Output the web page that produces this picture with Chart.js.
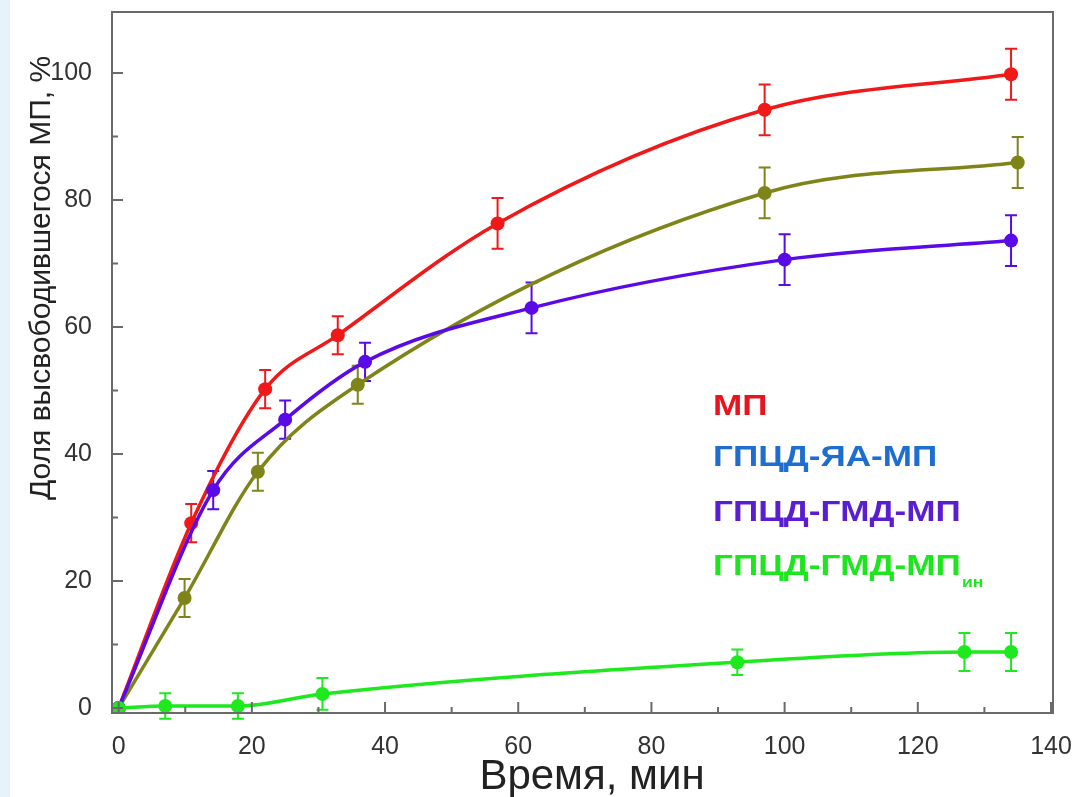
<!DOCTYPE html>
<html>
<head>
<meta charset="utf-8">
<script src="https://cdn.jsdelivr.net/npm/chart.js@4/dist/chart.umd.min.js"></script>
<style>
  html, body { margin: 0; padding: 0; background: #fff; }
  #wrap { width: 1076px; height: 797px; position: relative; }
</style>
</head>
<body>
<div id="wrap"><canvas id="chart" width="1076" height="797"></canvas></div>
<script>
// time, min
const mpX   = [0, 10.9, 22.0, 32.9, 56.9, 97.0, 134.0];
const mpY   = [0, 29.1, 50.2, 58.7, 76.3, 94.2, 99.8];
const mpErr = [0, 3, 3, 3, 4, 4, 4];

const yaX   = [0, 9.9, 20.9, 35.9, 97.0, 135.0];
const yaY   = [0, 17.3, 37.2, 50.9, 81.1, 85.9];
const yaErr = [0, 3, 3, 3, 4, 4];

const gmdX   = [0, 14.2, 25.0, 37.0, 62.0, 100.0, 134.0];
const gmdY   = [0, 34.3, 45.4, 54.5, 63.0, 70.6, 73.6];
const gmdErr = [0, 3, 3, 3, 4, 4, 4];

const inX   = [0, 7.0, 17.9, 30.6, 92.9, 127.0, 134.0];
const inY   = [0, 0.3, 0.3, 2.2, 7.2, 8.8, 8.8];
const inErr = [0, 2, 2, 2.5, 2, 3, 3];

const xTicks = [0, 20, 40, 60, 80, 100, 120, 140];
const yTicks = [0, 20, 40, 60, 80, 100];
const xMinor = [10, 30, 50, 70, 90, 110, 130];
const yMinor = [10, 30, 50, 70, 90];

const legendNames = ['МП', 'ГПЦД-ЯА-МП', 'ГПЦД-ГМД-МП', 'ГПЦД-ГМД-МП'];
const legendColors = ['#e8141e', '#1e6ed2', '#5a1ed2', '#1ee61e'];

const xTitle = 'Время, мин';
const yTitle = 'Доля высвободившегося МП, %';

function pts(xs, ys) {
    return xs.map((v, i) => ({x: v, y: ys[i]}));
}

function series(xs, ys, errs, color) {
    return {
        data: pts(xs, ys),
        errors: errs,
        showLine: true,
        borderColor: color,
        backgroundColor: color,
        borderWidth: 3.5,
        pointRadius: 7,
        pointBorderWidth: 0,
        cubicInterpolationMode: 'monotone',
    };
}

function noPad(s) {
    s.paddingTop = 0; s.paddingBottom = 0; s.paddingLeft = 0; s.paddingRight = 0;
}

const decor = {
    id: 'decor',
    beforeDraw(chart) {
        const ctx = chart.ctx;
        ctx.save();
        ctx.fillStyle = '#fff';
        ctx.fillRect(0, 0, chart.width, chart.height);
        ctx.fillStyle = '#e6f3fa';
        ctx.fillRect(0, 0, 10, chart.height);
        ctx.restore();
    },
    beforeDatasetsDraw(chart) {
        const ctx = chart.ctx;
        const x = chart.scales.x, y = chart.scales.y;
        chart.data.datasets.forEach(ds => {
            ctx.save();
            ctx.strokeStyle = ds.borderColor;
            ctx.lineWidth = 2;
            ds.data.forEach((p, j) => {
                const e = ds.errors[j];
                if (!e) return;
                const px = x.getPixelForValue(p.x);
                const t = y.getPixelForValue(p.y + e);
                const b = y.getPixelForValue(p.y - e);
                ctx.beginPath();
                ctx.moveTo(px, t); ctx.lineTo(px, b);
                ctx.moveTo(px - 6, t); ctx.lineTo(px + 6, t);
                ctx.moveTo(px - 6, b); ctx.lineTo(px + 6, b);
                ctx.stroke();
            });
            ctx.restore();
        });
    },
    afterDraw(chart) {
        const ctx = chart.ctx;
        const a = chart.chartArea;
        const x = chart.scales.x, y = chart.scales.y;
        ctx.save();
        // frame
        ctx.strokeStyle = '#6a6a6a';
        ctx.lineWidth = 2;
        ctx.strokeRect(a.left, a.top, a.right - a.left, a.bottom - a.top);
        // inward ticks
        ctx.beginPath();
        xTicks.forEach(v => { const p = x.getPixelForValue(v); ctx.moveTo(p, a.bottom); ctx.lineTo(p, a.bottom - 11); });
        xMinor.forEach(v => { const p = x.getPixelForValue(v); ctx.moveTo(p, a.bottom); ctx.lineTo(p, a.bottom - 6); });
        yTicks.forEach(v => { const p = y.getPixelForValue(v); ctx.moveTo(a.left, p); ctx.lineTo(a.left + 11, p); });
        yMinor.forEach(v => { const p = y.getPixelForValue(v); ctx.moveTo(a.left, p); ctx.lineTo(a.left + 6, p); });
        ctx.stroke();

        // axis titles
        ctx.fillStyle = '#222';
        ctx.textAlign = 'center';
        ctx.textBaseline = 'middle';
        ctx.font = '42px "Liberation Sans", Arial, sans-serif';
        ctx.fillText(xTitle, 592, 777);
        ctx.save();
        ctx.translate(42, 278);
        ctx.rotate(-Math.PI / 2);
        ctx.font = '30px "Liberation Sans", Arial, sans-serif';
        ctx.fillText(yTitle, 0, 0);
        ctx.restore();

        // legend text
        const rows = [407, 458, 513, 567];
        ctx.textAlign = 'left';
        ctx.font = 'bold 30px "Liberation Sans", Arial, sans-serif';
        legendNames.forEach((name, i) => {
            ctx.save();
            ctx.translate(713, rows[i]);
            ctx.scale(1.17, 1);
            ctx.fillStyle = legendColors[i];
            ctx.fillText(name, 0, 0);
            if (i === 3) {
                const w = ctx.measureText(name).width;
                ctx.font = 'bold 15px "Liberation Sans", Arial, sans-serif';
                ctx.fillText('ин', w + 1, 16);
            }
            ctx.restore();
        });
        ctx.restore();
    }
};

new Chart(document.getElementById('chart'), {
    type: 'scatter',
    data: {
        datasets: [
            series(inX, inY, inErr, '#1ee81e'),
            series(gmdX, gmdY, gmdErr, '#5a0ae6'),
            series(yaX, yaY, yaErr, '#7f8418'),
            series(mpX, mpY, mpErr, '#f01818'),
        ]
    },
    options: {
        responsive: false,
        devicePixelRatio: 1,
        animation: false,
        layout: { padding: { top: 12, right: 23, left: 0, bottom: 0 } },
        plugins: { legend: { display: false }, tooltip: { enabled: false } },
        scales: {
            x: {
                type: 'linear',
                min: -1,
                max: 140.3,
                afterBuildTicks: s => { s.ticks = xTicks.map(v => ({value: v})); },
                afterFit: s => { s.height = 84; noPad(s); },
                grid: { display: false, drawTicks: false },
                border: { display: false },
                ticks: { padding: 19, color: '#333', font: { size: 25, family: '"Liberation Sans", Arial, sans-serif' }, maxRotation: 0 },
            },
            y: {
                type: 'linear',
                min: -0.8,
                max: 109.6,
                afterBuildTicks: s => { s.ticks = yTicks.map(v => ({value: v})); },
                afterFit: s => { s.width = 112; noPad(s); },
                grid: { display: false, drawTicks: false },
                border: { display: false },
                ticks: { padding: 20, color: '#333', font: { size: 25, family: '"Liberation Sans", Arial, sans-serif' } },
            }
        }
    },
    plugins: [decor]
});
</script>
</body>
</html>
